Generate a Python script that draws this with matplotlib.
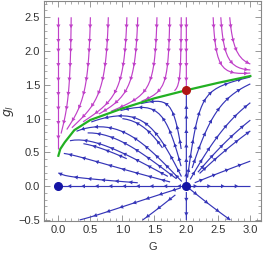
import numpy as np
import matplotlib
matplotlib.use("Agg")
import matplotlib.pyplot as plt
from matplotlib.patches import FancyArrowPatch
from matplotlib.ticker import MultipleLocator

plt.rcParams['font.family'] = 'Liberation Sans'

# === DATA ===
# separatrix (green)
sep_G = [0.0, 0.03, 0.1, 0.25, 0.5, 1.0, 1.5, 2.0, 2.5, 3.0]
sep_g = [0.45, 0.55, 0.65, 0.83, 0.98, 1.15, 1.30, 1.42, 1.53, 1.63]

fixed_blue_G = [0.0, 2.0]
fixed_blue_g = [0.0, 0.0]
fixed_red_G = [2.0]
fixed_red_g = [1.42]

# seed points of the stream lines
mag_seed_G = [0.0, 2.0, 0.2, 0.5, 0.78, 1.07, 1.24, 1.54, 1.74, 1.92, 2.42, 2.54, 2.68]
mag_seed_g = [2.48] * len(mag_seed_G)
blue_seed_G = [1.0, 2.0, 2.0, 2.6, 1.4, 1.2, 1.35, 1.55, 1.7, 1.85, 2.15, 2.3, 2.5, 2.7, 2.8,
               1.5, 1.6, 2.4, 0.6, 0.6, 0.6, 0.6, 0.8, 1.0, 2.9, 2.9]
blue_seed_g = [0.0, 0.7, -0.3, 0.0, 0.15, 0.4, 0.6, 0.75, 0.9, 0.9, 0.9, 0.8, 0.75, 0.6, 0.3,
               -0.15, -0.3, -0.3, 0.1, 0.33, 0.58, 0.78, 0.9, 1.0, 1.2, 0.9]

# === FIELD ===
G = np.linspace(0, 3, 200)
g = np.linspace(-0.5, 2.5, 200)
GG, gg = np.meshgrid(G, g)
U = GG * (GG - 2) / (1 + 0.18 * gg**2)
V = gg * (0.2 + 0.9 * GG - gg**2)

above = gg >= np.interp(GG, sep_G, sep_g)
Um = np.ma.masked_where(~above, U)
Vm = np.ma.masked_where(~above, V)
Ub = np.ma.masked_where(above, U)
Vb = np.ma.masked_where(above, V)


def add_arrows(ax, sp, color, step=14.0):
    # small arrowheads spaced along each streamline (in pixels)
    for seg in sp.lines.get_segments():
        if len(seg) < 2:
            continue
        pix = ax.transData.transform(seg)
        d = np.hypot(*np.diff(pix, axis=0).T)
        s = np.concatenate([[0], np.cumsum(d)])
        for target in np.arange(step / 2, s[-1] - 3, step):
            i = np.searchsorted(s, target)
            i = min(max(i, 1), len(seg) - 1)
            a, b = seg[i - 1], seg[i]
            if np.allclose(a, b):
                continue
            ax.add_patch(FancyArrowPatch(a, b, arrowstyle='-|>,head_length=0.45,head_width=0.25',
                                         mutation_scale=6, color=color, lw=0,
                                         shrinkA=0, shrinkB=0))


fig = plt.figure(figsize=(2.66, 2.56), dpi=100)
ax = fig.add_axes([0.1665, 0.1355, 0.8155, 0.8605])
ax.set_xlim(-0.22, 3.17)
ax.set_ylim(-0.52, 2.74)

mag_c = '#c040c8'
blue_c = '#3535b8'
kw = dict(linewidth=0.85, arrowsize=0, density=1.4, broken_streamlines=True)
sp1 = ax.streamplot(G, g, Um, Vm, color=mag_c,
                    start_points=np.column_stack([mag_seed_G, mag_seed_g]), **kw)
sp2 = ax.streamplot(G, g, Ub, Vb, color=blue_c,
                    start_points=np.column_stack([blue_seed_G, blue_seed_g]), **kw)
add_arrows(ax, sp1, mag_c)
add_arrows(ax, sp2, blue_c)

ax.plot(sep_G, sep_g, color='#22b022', lw=1.6)
ax.plot(fixed_blue_G, fixed_blue_g, 'o', color='#1515a5', ms=5.5, zorder=5)
ax.plot(fixed_red_G, fixed_red_g, 'o', color='#b01515', ms=5.5, zorder=5)

# frame & ticks, Mathematica style
for sp in ax.spines.values():
    sp.set_color('#888888')
    sp.set_linewidth(0.8)
ax.xaxis.set_major_locator(MultipleLocator(0.5))
ax.yaxis.set_major_locator(MultipleLocator(0.5))
ax.xaxis.set_minor_locator(MultipleLocator(0.1))
ax.yaxis.set_minor_locator(MultipleLocator(0.1))
ax.tick_params(which='both', direction='in', top=True, right=True, color='#888888',
               labelsize=8, labelcolor='#333333', pad=3)
ax.tick_params(which='major', length=4, width=0.6)
ax.tick_params(which='minor', length=2, width=0.5)
ax.xaxis.set_major_formatter(lambda v, p: f"{v:.1f}".replace('-', '\u2212'))
ax.yaxis.set_major_formatter(lambda v, p: f"{v:.1f}".replace('-', '\u2212'))
ax.set_xlabel("G", fontsize=8, color='#333333', labelpad=5)
ax.set_ylabel("$g_l$", fontsize=9, color='#333333', labelpad=2)

fig.savefig('out.png', dpi=100)
